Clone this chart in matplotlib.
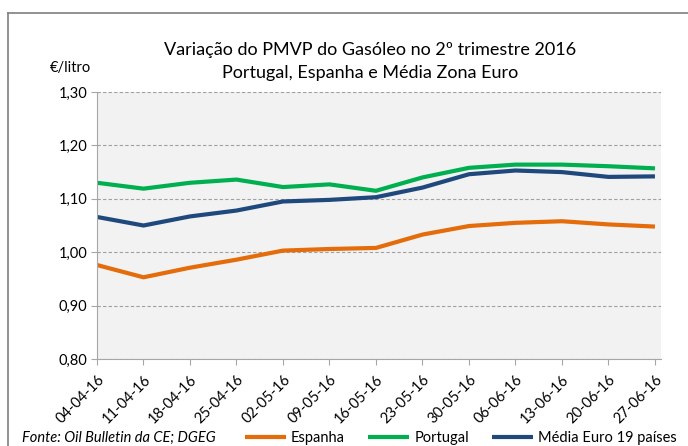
import matplotlib.pyplot as plt
from matplotlib.lines import Line2D

plt.rcParams['font.family'] = ['Lato', 'DejaVu Sans']

datas = ['04-04-16', '11-04-16', '18-04-16', '25-04-16', '02-05-16', '09-05-16',
         '16-05-16', '23-05-16', '30-05-16', '06-06-16', '13-06-16', '20-06-16', '27-06-16']
espanha = [0.976, 0.953, 0.971, 0.986, 1.003, 1.006, 1.008, 1.033, 1.049, 1.055, 1.058, 1.052, 1.048]
portugal = [1.130, 1.119, 1.130, 1.136, 1.122, 1.127, 1.115, 1.140, 1.158, 1.164, 1.164, 1.161, 1.157]
media_euro = [1.066, 1.050, 1.067, 1.078, 1.095, 1.098, 1.103, 1.121, 1.146, 1.153, 1.150, 1.141, 1.142]

fig = plt.figure(figsize=(6.88, 4.46), dpi=100)
ax = fig.add_axes([97/688, 1 - 359/446, 564/688, 267/446])
ax.set_facecolor('#F2F2F2')

x = range(len(datas))
l1, = ax.plot(x, espanha, color='#E46C0A', lw=3, solid_capstyle='butt', label='Espanha')
l2, = ax.plot(x, portugal, color='#00B050', lw=3, solid_capstyle='butt', label='Portugal')
l3, = ax.plot(x, media_euro, color='#1F497D', lw=3, solid_capstyle='butt', label='Média Euro 19 países')

ax.set_xlim(0, 12.13)
ax.set_ylim(0.80, 1.30)
yt = [0.80, 0.90, 1.00, 1.10, 1.20, 1.30]
ax.set_yticks(yt)
ax.set_yticklabels(['{:.2f}'.format(v).replace('.', ',') for v in yt], fontsize=10.5)
ax.set_xticks(list(x))
ax.set_xticklabels(datas, rotation=45, ha='right', va='top', rotation_mode='anchor', fontsize=10.5)
ax.grid(axis='y', color='#A0A0A0', ls=(0, (3, 2)), lw=0.8)
ax.set_axisbelow(True)
for s in ['top', 'right']:
    ax.spines[s].set_visible(False)
for s in ['left', 'bottom']:
    ax.spines[s].set_color('#A6A6A6')
ax.tick_params(axis='both', color='#A6A6A6', length=4, pad=3)
ax.tick_params(axis='x', pad=6)

fig.text(370/688, 1 - 50/446, 'Variação do PMVP do Gasóleo no 2º trimestre 2016',
         ha='center', va='center', fontsize=13)
fig.text(370/688, 1 - 73/446, 'Portugal, Espanha e Média Zona Euro',
         ha='center', va='center', fontsize=13)
fig.text(50/688, 1 - 68/446, '€/litro', ha='left', va='center', fontsize=10.5)

# moldura do gráfico (só esquerda e topo visíveis)
fig.add_artist(Line2D([8/688, 8/688], [0, 1 - 13/446], color='#7F7F7F', lw=1.2))
fig.add_artist(Line2D([8/688, 1], [1 - 13/446, 1 - 13/446], color='#7F7F7F', lw=1.2))

fig.text(22/688, 1 - 438/446, 'Fonte: Oil Bulletin da CE; DGEG', ha='left', va='center',
         fontsize=10.5, style='italic')
fig.legend(handles=[l1, l2, l3], loc='center left', bbox_to_anchor=(245/688, 1 - 438/446),
           ncol=3, frameon=False, fontsize=10.5, handlelength=2.8, handletextpad=0.35,
           columnspacing=1.6, borderpad=0, borderaxespad=0)

fig.savefig('out.png', dpi=100)
